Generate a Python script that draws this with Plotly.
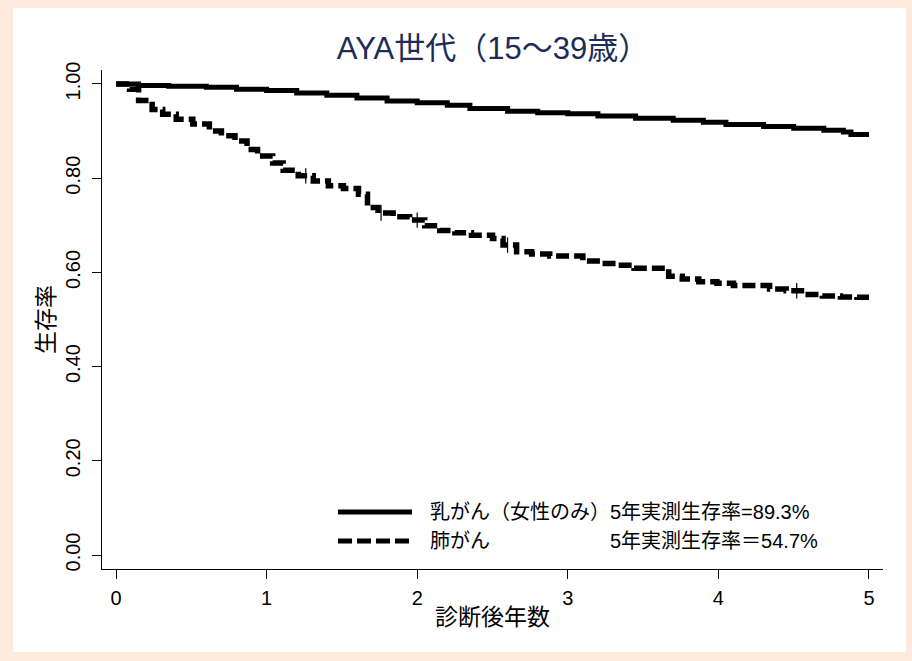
import numpy as np
import plotly.graph_objects as go

# Kaplan-Meier survival estimates by years since diagnosis (AYA generation, 15-39)
breast_t = [0, 0.15, 0.35, 0.6, 0.8, 1.0, 1.2, 1.4, 1.6, 1.8, 2.0, 2.2, 2.35, 2.6,
            2.8, 3.0, 3.2, 3.45, 3.7, 3.9, 4.05, 4.3, 4.5, 4.7, 4.83, 4.88, 5.0]
breast_s = [1.000, 0.997, 0.995, 0.993, 0.989, 0.986, 0.981, 0.976, 0.970, 0.964,
            0.960, 0.955, 0.948, 0.942, 0.939, 0.937, 0.932, 0.927, 0.923, 0.919,
            0.914, 0.910, 0.906, 0.902, 0.898, 0.893, 0.893]

lung_t = [0, 0.09, 0.15, 0.24, 0.31, 0.40, 0.51, 0.62, 0.70, 0.79,
          0.87, 0.94, 1.04, 1.11, 1.21, 1.31, 1.41, 1.51, 1.61, 1.67,
          1.74, 1.84, 1.95, 2.05, 2.15, 2.25, 2.36, 2.50, 2.57, 2.66,
          2.76, 2.88, 3.10, 3.23, 3.33, 3.44, 3.67, 3.76, 3.87, 3.99,
          4.10, 4.34, 4.45, 4.57, 4.69, 4.81, 4.92, 5.0]
lung_s = [1.000, 0.989, 0.965, 0.946, 0.936, 0.925, 0.915, 0.900, 0.890, 0.879,
          0.861, 0.847, 0.832, 0.817, 0.805, 0.794, 0.784, 0.778, 0.766, 0.738,
          0.726, 0.718, 0.711, 0.699, 0.689, 0.684, 0.679, 0.672, 0.658, 0.644,
          0.639, 0.635, 0.624, 0.619, 0.615, 0.609, 0.592, 0.586, 0.580, 0.577,
          0.572, 0.565, 0.561, 0.553, 0.550, 0.548, 0.547, 0.547]

# censored observations (years) on the lung cancer curve
lung_censor_t = [1.26, 1.76, 2.0, 2.6, 4.52]

x_ticks = [0, 1, 2, 3, 4, 5]
y_ticks = [0.0, 0.2, 0.4, 0.6, 0.8, 1.0]
y_ticklabels = ["0.00", "0.20", "0.40", "0.60", "0.80", "1.00"]

title_text = "AYA世代（15～39歳）"
x_title = "診断後年数"
y_title = "生存率"
legend_rows = [
    ("乳がん（女性のみ）5年実測生存率=89.3%", None),
    ("肺がん", "5年実測生存率＝54.7%"),
]

FONT = "Liberation Sans, Arial, Noto Sans CJK JP, sans-serif"
PEACH = "#fdeadc"
NAVY = "#1c2b58"

# figure geometry (pixels)
W, H = 912, 661
L, R, T, B = 102, 29, 70, 92
PW, PH = W - L - R, H - T - B


def px_x(p):
    return (p - L) / PW


def px_y(p):
    return (H - B - p) / PH


fig = go.Figure()

fig.add_trace(go.Scatter(
    x=breast_t, y=breast_s, mode="lines", line_shape="hv",
    line=dict(color="black", width=5), showlegend=False, hoverinfo="skip"))

fig.add_trace(go.Scatter(
    x=lung_t, y=lung_s, mode="lines", line_shape="hv",
    line=dict(color="black", width=5.5, dash="13px,5px"),
    showlegend=False, hoverinfo="skip"))

# censoring marks placed on the step curve
idx = np.searchsorted(np.array(lung_t), np.array(lung_censor_t), side="right") - 1
censor_s = [lung_s[i] for i in idx]
fig.add_trace(go.Scatter(
    x=lung_censor_t, y=censor_s, mode="markers",
    marker=dict(symbol="line-ns-open", size=11, color="black",
                line=dict(color="black", width=1.2)),
    showlegend=False, hoverinfo="skip"))

shapes = [
    # white panel on peach page
    dict(type="rect", xref="paper", yref="paper",
         x0=px_x(13), x1=px_x(906), y0=px_y(652), y1=px_y(8),
         fillcolor="white", line=dict(width=0), layer="below"),
    # legend keys
    dict(type="line", xref="paper", yref="paper",
         x0=px_x(338), x1=px_x(412), y0=px_y(512), y1=px_y(512),
         line=dict(color="black", width=5)),
    dict(type="line", xref="paper", yref="paper",
         x0=px_x(338), x1=px_x(412), y0=px_y(541), y1=px_y(541),
         line=dict(color="black", width=5, dash="14px,5px")),
]

annotations = []
row_y = [512, 541]
for (left_text, right_text), yy in zip(legend_rows, row_y):
    annotations.append(dict(
        xref="paper", yref="paper", x=px_x(428), y=px_y(yy),
        xanchor="left", yanchor="middle", showarrow=False, text=left_text,
        font=dict(family=FONT, size=20, color="black")))
    if right_text:
        annotations.append(dict(
            xref="paper", yref="paper", x=px_x(608), y=px_y(yy),
            xanchor="left", yanchor="middle", showarrow=False, text=right_text,
            font=dict(family=FONT, size=20, color="black")))

fig.update_layout(
    width=W, height=H,
    margin=dict(l=L, r=R, t=T, b=B, pad=0),
    paper_bgcolor=PEACH, plot_bgcolor="white",
    font=dict(family=FONT, color="black"),
    title=dict(text=title_text, x=px_x(493), xref="paper", xanchor="center",
               y=1 - 48 / H, yref="container", yanchor="middle",
               font=dict(family=FONT, size=31, color=NAVY)),
    shapes=shapes, annotations=annotations,
    xaxis=dict(range=[-0.093, 5.093], tickvals=x_ticks, ticks="outside",
               ticklen=9, tickwidth=1.3, tickcolor="black",
               showline=True, linecolor="black", linewidth=1.3,
               showgrid=False, zeroline=False, ticklabelstandoff=2,
               tickfont=dict(family=FONT, size=20, color="black"),
               title=dict(text=x_title, standoff=0,
                          font=dict(family=FONT, size=23, color="black"))),
    yaxis=dict(range=[-0.0297, 1.0297], tickvals=y_ticks, ticktext=y_ticklabels,
               tickangle=-90, ticks="outside",
               ticklen=9, tickwidth=1.3, tickcolor="black",
               showline=True, linecolor="black", linewidth=1.3,
               showgrid=False, zeroline=False, ticklabelstandoff=4,
               tickfont=dict(family=FONT, size=20, color="black"),
               title=dict(text=y_title, standoff=0,
                          font=dict(family=FONT, size=23, color="black"))),
)

fig.write_html("out.html")
